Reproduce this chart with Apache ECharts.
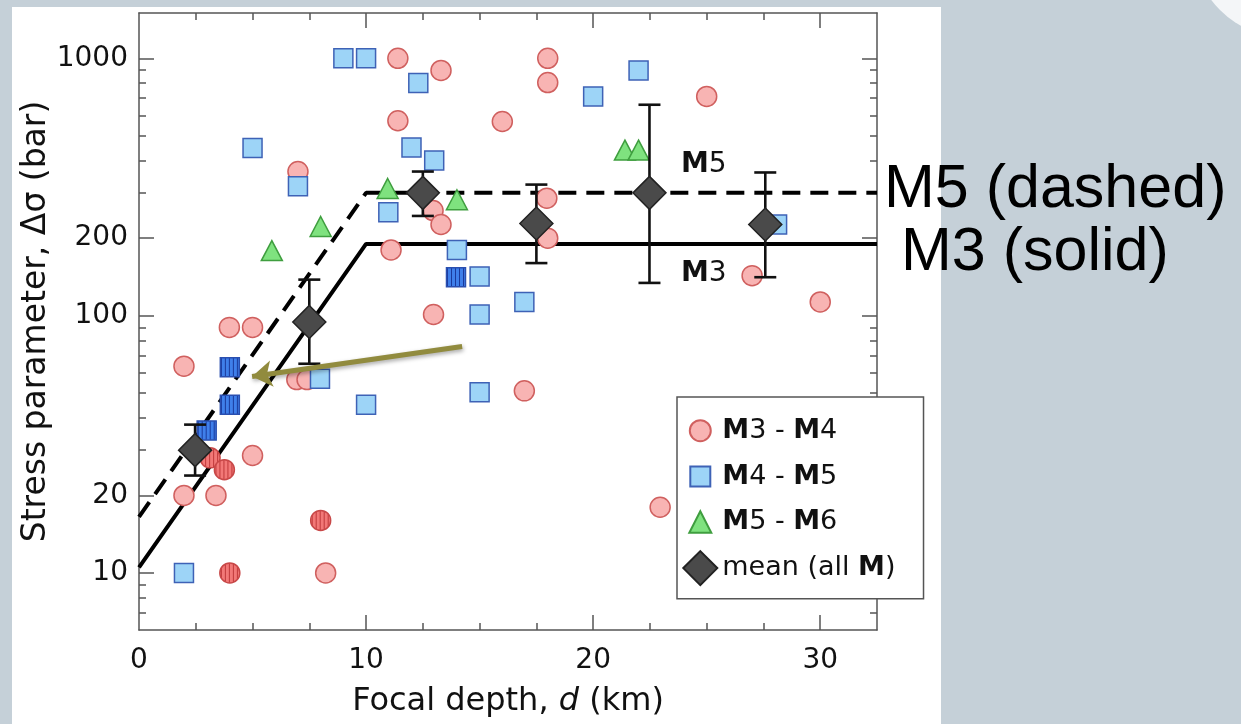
<!DOCTYPE html>
<html><head><meta charset="utf-8">
<script src="https://cdn.jsdelivr.net/npm/echarts@6/dist/echarts.min.js"></script>
<style>
html,body{margin:0;padding:0;width:1241px;height:724px;overflow:hidden;background:#c5d0d8;}
#panel{position:absolute;left:12px;top:7px;width:929px;height:717px;background:#fff;}
#corner{position:absolute;left:1191px;top:-159px;width:198px;height:198px;border-radius:50%;background:#f4f6f8;}
#chart{position:absolute;left:0;top:0;width:1241px;height:724px;}
</style></head><body>
<div id="panel"></div><div id="corner"></div><div id="chart"></div>
<script>
// ---- data (depth km, stress parameter bar) ----
const m3m4 = [[1.98,63.6],[3.98,90],[5.0,90],[6.95,56.4],[7.4,56.4],[5.0,28.6],[1.98,20],[3.39,20],[8.22,10],
  [7.0,363],[11.1,180],[11.4,1000],[13.3,897],[11.4,572],[12.95,256],[13.3,226],[12.97,101],
  [16.0,568],[18.0,1000],[18.0,805],[17.96,286],[18.0,200],[25.0,711],[27.0,143],[30.0,113],[16.97,51],[22.95,18]];
const m3m4Striped = [[3.13,28],[3.76,25.2],[8.0,16],[4.0,10]];
const m4m5 = [[9.0,1000],[10.0,1000],[12.3,801],[5.0,448],[12.0,450],[13.0,401],[7.0,318],[10.98,252],[14.0,180],
  [15.0,142],[15.0,101],[16.97,113],[20.0,711],[22.0,897],[28.1,226],[1.98,10],[7.97,56.8],[10.0,45],[15.0,50.4]];
const m4m5Striped = [[4.0,63],[4.0,45],[2.98,35.8],[13.96,141]];
const m5m6 = [[10.95,312],[14.0,282],[8.0,222],[5.85,179],[21.4,440],[22.0,440]];
const meanDepth = [2.47,7.5,12.5,17.5,22.48,27.58];
const meanValue = [30,94.5,300,228,300,226];
const meanLow = [23.9,65,244,160,134,141];
const meanHigh = [37.7,138,363,323,660,360];
const m3Model = [[0,10.5],[10,190],[32.5,190]];
const m5Model = [[0,16.5],[10,300],[32.5,300]];
const arrowFrom = [14.23,75.8];
const arrowTo = [4.98,58];
const xLabels = [0,10,20,30];
const xMajorTicks = [10,20,30];
const xMinorTicks = [2.5,5,7.5,12.5,15,17.5,22.5,25,27.5];
const yLabels = [10,20,100,200,1000];
const yMinorTicks = [7,8,9,30,40,50,60,70,80,90,300,400,500,600,700,800,900];
const legendNames = ['M3 - M4','M4 - M5','M5 - M6','mean (all M)'];

const FONT = 'DejaVu Sans';
const AX = '#555';
const Y_MIN = 6, Y_MAX = 1500, X_MIN = 0, X_MAX = 32.5;
const CIRCLE_SIZE = 20, RECT_SIZE = 19;

// vertical stripe fill; the symbol path is scaled by size/2, so undo that for the pattern
function stripes(bg, fg, symbolSize){
  const c = document.createElement('canvas'); c.width = 4; c.height = 4;
  const g = c.getContext('2d'); g.fillStyle = bg; g.fillRect(0,0,4,4);
  g.fillStyle = fg; g.fillRect(3,0,1,4);
  const s = 2 / symbolSize;
  return {image: c, repeat: 'repeat', scaleX: s, scaleY: s};
}
const lg = v => Math.log10(v);

function xAx(pos, ticks, len, line, labels){
  return {type:'value', position:pos, min:X_MIN, max:X_MAX, gridIndex:0,
    axisLine:{show:line, onZero:false, lineStyle:{color:AX,width:1.5}},
    axisTick:{show:true, inside:true, length:len, customValues:ticks, lineStyle:{color:AX,width:1.5}},
    axisLabel: labels ? {show:true, customValues:labels, margin:17, fontSize:28, fontFamily:FONT, color:'#111'} : {show:false},
    splitLine:{show:false}};
}
function yAux(pos, ticks, len, labels){
  return {type:'value', position:pos, min:lg(Y_MIN), max:lg(Y_MAX), gridIndex:0,
    axisLine:{show:false, onZero:false},
    axisTick:{show:true, inside:true, length:len, customValues:ticks.map(lg), lineStyle:{color:AX,width:1.5}},
    axisLabel: labels ? {show:true, customValues:labels.map(lg), margin:11, fontSize:28, fontFamily:FONT, color:'#111',
      formatter: v => String(Math.round(Math.pow(10, v)))} : {show:false},
    splitLine:{show:false}};
}

const xBottom = xAx('bottom', xMajorTicks, 15, true, xLabels);
xBottom.name = 'Focal depth, {i|d} (km)';
xBottom.nameLocation = 'middle';
xBottom.nameGap = 56;
xBottom.nameTextStyle = {fontSize:32, fontFamily:FONT, color:'#111', rich:{i:{fontStyle:'italic', fontSize:32, fontFamily:FONT, color:'#111'}}};

const chart = echarts.init(document.getElementById('chart'), null, {renderer:'canvas'});
const icons = {
  'M3 - M4': 'path://M0,0M34,34M27.5,17A10.5,10.5,0,1,1,6.5,17A10.5,10.5,0,1,1,27.5,17Z',
  'M4 - M5': 'path://M0,0M34,34M7,7L27,7L27,27L7,27Z',
  'M5 - M6': 'path://M0,0M34,34M17,6L28,27.5L6,27.5Z',
  'mean (all M)': 'path://M17,0L34,17L17,34L0,17Z'
};

chart.setOption({
  animation:false,
  grid:{left:139, top:13, width:738, height:617},
  xAxis:[ xBottom,
    xAx('bottom', xMinorTicks, 7, false, null),
    xAx('top', xMajorTicks, 15, true, null),
    xAx('top', xMinorTicks, 7, false, null)],
  yAxis:[
    {type:'log', logBase:10, position:'left', min:Y_MIN, max:Y_MAX, gridIndex:0,
      axisLine:{show:true, onZero:false, lineStyle:{color:AX,width:1.5}},
      axisTick:{show:false}, axisLabel:{show:false}, splitLine:{show:false}, minorTick:{show:false},
      name:'Stress parameter, Δσ (bar)', nameLocation:'middle', nameGap:86,
      nameTextStyle:{fontSize:33, fontFamily:FONT, color:'#111'}},
    yAux('left', yLabels, 15, yLabels),
    yAux('left', yMinorTicks, 7, null),
    Object.assign(yAux('right', yLabels, 15, null), {axisLine:{show:true, onZero:false, lineStyle:{color:AX,width:1.5}}}),
    yAux('right', yMinorTicks, 7, null)
  ],
  legend:{
    data: legendNames.map(n => ({name:n, icon:icons[n]})),
    orient:'vertical', left:677, top:397,
    itemWidth:34, itemHeight:34, itemGap:9.8,
    padding:[15.7, 28, 12.7, 5.3],
    backgroundColor:'#fff', borderColor:'#555', borderWidth:1.5, borderRadius:0,
    selectedMode:false,
    formatter: n => n.replace(/M(?=\d|\))/g, '{b|M}'),
    textStyle:{fontSize:27, fontFamily:FONT, color:'#111',
      rich:{b:{fontWeight:'bold', fontSize:27, fontFamily:FONT, color:'#111'}}}
  },
  series:[
    {name:'M3 model', type:'line', data:m3Model, symbol:'none', z:1, silent:true,
      lineStyle:{color:'#000', width:4}},
    {name:'M5 model', type:'line', data:m5Model, symbol:'none', z:1, silent:true,
      lineStyle:{color:'#000', width:4, type:[18,10]}},
    {name:'M3 - M4', type:'scatter', data:m3m4, symbol:'circle', symbolSize:CIRCLE_SIZE, z:2,
      itemStyle:{color:'#f8b4b3', borderColor:'#d0605f', borderWidth:1.5, opacity:1}},
    {name:'M3 - M4 striped', type:'scatter', data:m3m4Striped, symbol:'circle', symbolSize:CIRCLE_SIZE, z:2,
      itemStyle:{color:stripes('#f27877','#c0393a', CIRCLE_SIZE), borderColor:'#c84848', borderWidth:1.5, opacity:1}},
    {name:'M4 - M5', type:'scatter', data:m4m5, symbol:'rect', symbolSize:RECT_SIZE, z:2,
      itemStyle:{color:'#9dd4f7', borderColor:'#3e62b6', borderWidth:1.5, opacity:1}},
    {name:'M4 - M5 striped', type:'scatter', data:m4m5Striped, symbol:'rect', symbolSize:RECT_SIZE, z:2,
      itemStyle:{color:stripes('#3f7fea','#1a3a9c', RECT_SIZE), borderColor:'#2a4fb0', borderWidth:1.5, opacity:1}},
    {name:'M5 - M6', type:'scatter', data:m5m6, symbol:'triangle', symbolSize:[21,20], z:2,
      itemStyle:{color:'#7fe27f', borderColor:'#3f9e3f', borderWidth:1.5, opacity:1}},
    {name:'error', type:'custom', z:3, silent:true,
      data: meanDepth.map((d,i) => [d, meanLow[i], meanHigh[i]]),
      encode:{x:0, y:[1,2]},
      renderItem:(params, api) => {
        const x = api.value(0);
        const a = api.coord([x, api.value(1)]);
        const b = api.coord([x, api.value(2)]);
        const w = 11, st = {stroke:'#111', lineWidth:2.6};
        return {type:'group', children:[
          {type:'line', shape:{x1:a[0],y1:a[1],x2:b[0],y2:b[1]}, style:st},
          {type:'line', shape:{x1:a[0]-w,y1:a[1],x2:a[0]+w,y2:a[1]}, style:st},
          {type:'line', shape:{x1:b[0]-w,y1:b[1],x2:b[0]+w,y2:b[1]}, style:st}
        ]};
      }},
    {name:'mean (all M)', type:'scatter', data: meanDepth.map((d,i) => [d, meanValue[i]]),
      symbol:'diamond', symbolSize:33, z:4,
      itemStyle:{color:'#4a4a4a', borderColor:'#222', borderWidth:1.5, opacity:1},
      markLine:{silent:true, symbol:['none','arrow'], symbolSize:20, label:{show:false},
        lineStyle:{color:'#918b3e', width:5, type:'solid', shadowColor:'rgba(0,0,0,0.35)', shadowBlur:4, shadowOffsetX:1, shadowOffsetY:2},
        emphasis:{disabled:true},
        data:[[{coord:arrowFrom},{coord:arrowTo}]]}}
  ],
  graphic:[
    {type:'text', left:681, top:151, silent:true, style:{text:'{b|M}5', font:'28px "DejaVu Sans"', fill:'#111',
      rich:{b:{fontWeight:'bold', fontSize:28, fontFamily:FONT, fill:'#111'}}}},
    {type:'text', left:681, top:260, silent:true, style:{text:'{b|M}3', font:'28px "DejaVu Sans"', fill:'#111',
      rich:{b:{fontWeight:'bold', fontSize:28, fontFamily:FONT, fill:'#111'}}}},
    {type:'text', x:884, y:190, silent:true, z:100, style:{text:'M5 (dashed)', font:'61px "Liberation Sans"', fill:'#000', textVerticalAlign:'middle', verticalAlign:'middle'}},
    {type:'text', x:901, y:253, silent:true, z:100, style:{text:'M3 (solid)', font:'61px "Liberation Sans"', fill:'#000', textVerticalAlign:'middle', verticalAlign:'middle'}}
  ]
});
</script></body></html>
